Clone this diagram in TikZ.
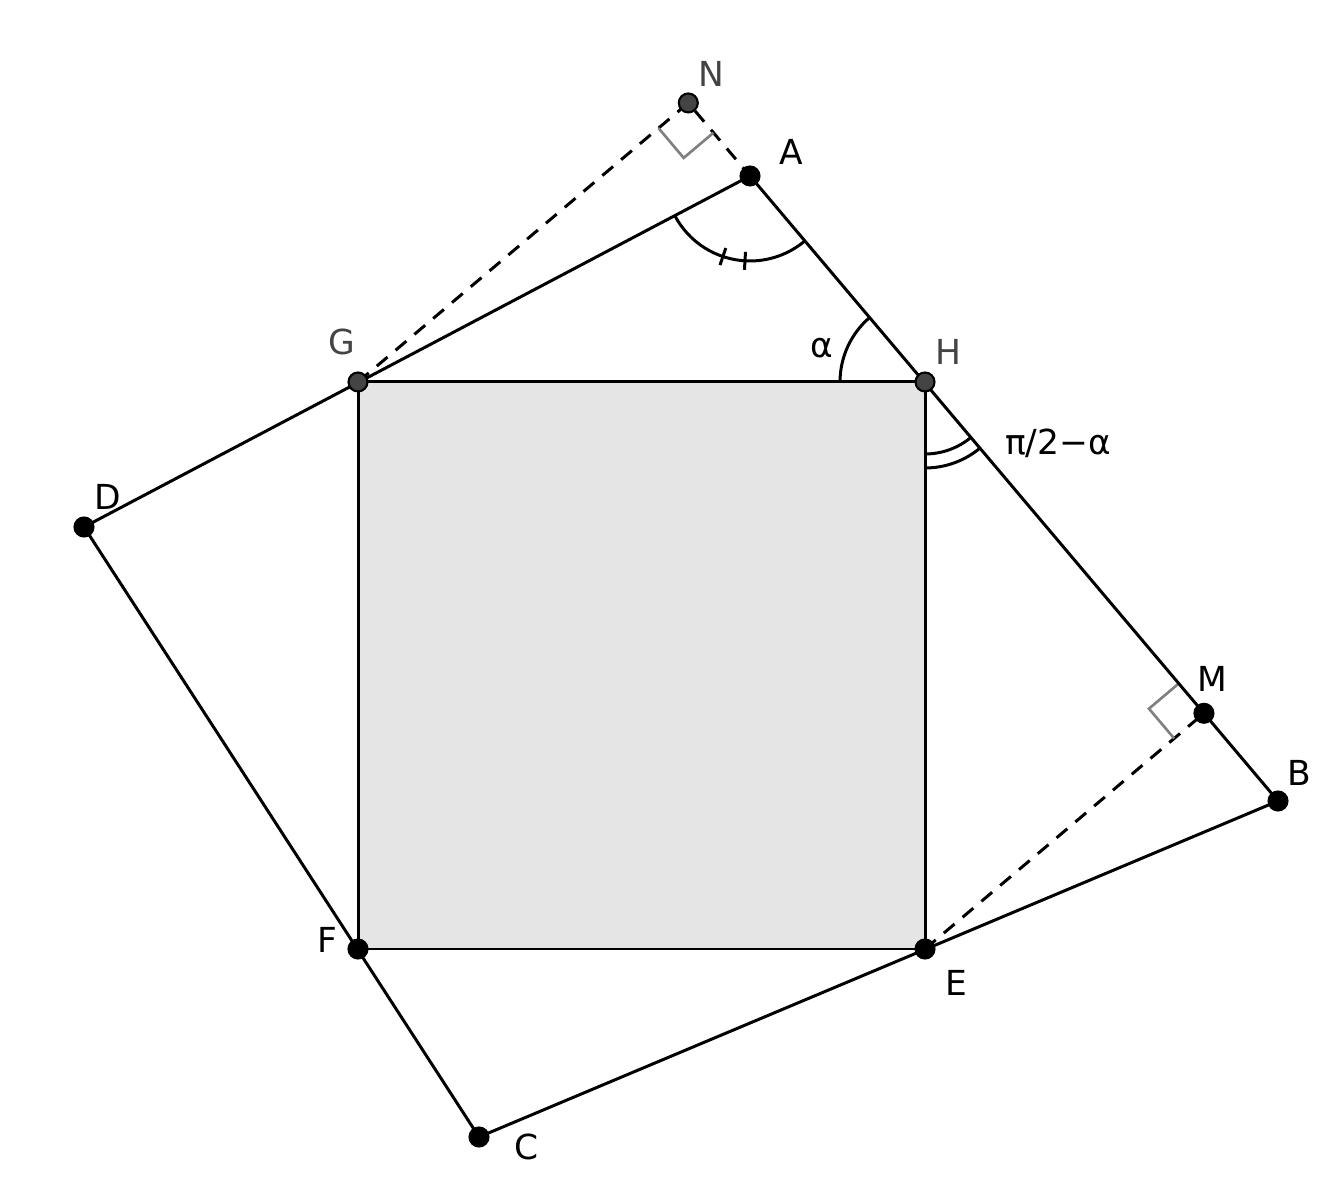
\documentclass[tikz,border=0pt]{standalone}
\usepackage{fontspec}
\setmainfont{DejaVu Sans}
\usepackage{xcolor}
\usepackage{tikz}
\usetikzlibrary{calc, angles}

\definecolor{freept}{HTML}{444444}
\definecolor{squarefill}{HTML}{E5E5E5}
\definecolor{rightgray}{HTML}{808080}

\begin{document}
\begin{tikzpicture}[
        line width=0.85pt,
        edge/.style={black, line width=0.85pt},
        aux/.style={black, line width=0.85pt, dash pattern=on 4pt off 3pt},
        rightmark/.style={rightgray, line width=0.75pt},
        point/.style={circle, fill=black, draw=black, line width=0.6pt, inner sep=0pt, minimum size=5.4pt},
        freepoint/.style={point, fill=freept},
        lbl/.style={font=\fontsize{9.8}{12}\selectfont, inner sep=0pt},
        freelbl/.style={lbl, text=freept}
        ]
        \useasboundingbox (0,0) rectangle (13.23,11.81);

        % Quadrilateral
        \coordinate (A) at (7.50,10.05);
        \coordinate (B) at (12.78,3.80);
        \coordinate (C) at (4.79,0.44);
        \coordinate (D) at (0.84,6.54);

        % Square
        \coordinate (G) at (3.58,7.99);
        \coordinate (H) at (9.25,7.99);
        \coordinate (E) at (9.25,2.32);
        \coordinate (F) at (3.58,2.32);

        % Feet of the perpendiculars
        \coordinate (N) at ($(A)!(G)!(B)$);
        \coordinate (M) at ($(A)!(E)!(B)$);

        % Right angle corners
        \coordinate (n1) at ($(N)!0.39cm!(G)$);
        \coordinate (n2) at ($(N)!0.39cm!(A)$);
        \coordinate (n3) at ($(n1)+(n2)-(N)$);
        \coordinate (m1) at ($(M)!0.39cm!(A)$);
        \coordinate (m2) at ($(M)!0.39cm!(E)$);
        \coordinate (m3) at ($(m1)+(m2)-(M)$);

        % Shaded square
        \fill[squarefill] (G) -- (H) -- (E) -- (F) -- cycle;

        % Dashed perpendiculars
        \draw[aux] (G) -- (N) -- (A);
        \draw[aux] (E) -- (M);

        % Right angle marks
        \draw[rightmark] (n1) -- (n3) -- (n2);
        \draw[rightmark] (m1) -- (m3) -- (m2);

        % Sides
        \draw[edge] (A) -- (B) -- (C) -- (D) -- cycle;
        \draw[edge] (G) -- (H) -- (E) -- (F) -- cycle;

        % Angles
        \draw pic[draw, angle radius=0.85cm] {angle = G--A--H};
        \draw ($(A)+(251.4:0.76)$) -- ($(A)+(251.4:0.94)$);
        \draw ($(A)+(266.6:0.76)$) -- ($(A)+(266.6:0.94)$);
        \draw pic[draw, angle radius=0.85cm] {angle = A--H--G};
        \draw pic[draw, angle radius=0.72cm] {angle = E--H--B};
        \draw pic[draw, angle radius=0.86cm] {angle = E--H--B};
        \node[lbl] (alpha) at (8.22,8.33) {α};
        \node[lbl] (beta) at (10.58,7.38) {π/2−α};

        % Points
        \node[point] (pA) at (A) {};
        \node[point] (pB) at (B) {};
        \node[point] (pC) at (C) {};
        \node[point] (pD) at (D) {};
        \node[point] (pE) at (E) {};
        \node[point] (pF) at (F) {};
        \node[point] (pM) at (M) {};
        \node[freepoint] (pN) at (N) {};
        \node[freepoint] (pG) at (G) {};
        \node[freepoint] (pH) at (H) {};

        % Labels
        \node[lbl] (lA) at ($(A)+(0.41,0.24)$) {A};
        \node[lbl] (lB) at ($(B)+(0.21,0.28)$) {B};
        \node[lbl] (lC) at ($(C)+(0.48,-0.10)$) {C};
        \node[lbl] (lD) at ($(D)+(0.24,0.30)$) {D};
        \node[lbl] (lE) at ($(E)+(0.31,-0.34)$) {E};
        \node[lbl] (lF) at ($(F)+(-0.31,0.09)$) {F};
        \node[lbl] (lM) at ($(M)+(0.08,0.34)$) {M};
        \node[freelbl] (lN) at ($(N)+(0.23,0.29)$) {N};
        \node[freelbl] (lG) at ($(G)+(-0.16,0.40)$) {G};
        \node[freelbl] (lH) at ($(H)+(0.23,0.30)$) {H};
\end{tikzpicture}
\end{document}
